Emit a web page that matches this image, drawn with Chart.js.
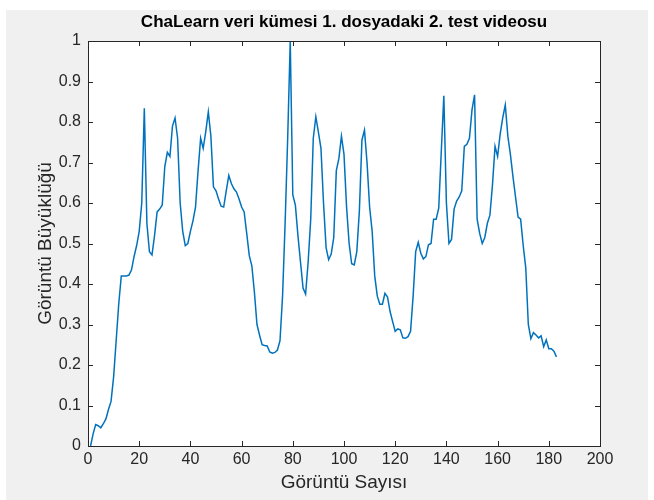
<!DOCTYPE html>
<html>
<head>
<meta charset="utf-8">
<script src="https://cdn.jsdelivr.net/npm/chart.js@4.4.0/dist/chart.umd.min.js"></script>
<style>
  html, body { margin: 0; padding: 0; background: #ffffff; }
  #fig { position: absolute; left: 6px; top: 10px; width: 642px; height: 490px; background: #f0f0f0; }
  #wrap { position: absolute; left: 0; top: 0; width: 654px; height: 500px; }
</style>
</head>
<body>
<div id="fig"></div>
<div id="wrap"><canvas id="chart" width="654" height="500"></canvas></div>
<script>
// Görüntü büyüklüğü, kare başına (1..183)
const sizes = [
    0, 0.030, 0.053, 0.050, 0.045, 0.055, 0.067, 0.090, 0.110, 0.170,
    0.260, 0.350, 0.420, 0.420, 0.420, 0.422, 0.435, 0.468, 0.495, 0.530,
    0.600, 0.834, 0.550, 0.480, 0.472, 0.520, 0.578, 0.585, 0.595, 0.690,
    0.725, 0.715, 0.790, 0.810, 0.760, 0.600, 0.530, 0.495, 0.500, 0.530,
    0.556, 0.590, 0.680, 0.760, 0.735, 0.776, 0.825, 0.765, 0.640, 0.630,
    0.610, 0.592, 0.590, 0.630, 0.668, 0.648, 0.635, 0.627, 0.610, 0.590,
    0.578, 0.525, 0.470, 0.445, 0.380, 0.300, 0.274, 0.250, 0.248, 0.247,
    0.232, 0.229, 0.231, 0.237, 0.260, 0.370, 0.550, 0.760, 1.000, 0.620,
    0.595, 0.520, 0.455, 0.390, 0.375, 0.455, 0.560, 0.760, 0.813, 0.775,
    0.735, 0.600, 0.490, 0.460, 0.474, 0.515, 0.680, 0.710, 0.765, 0.720,
    0.590, 0.500, 0.450, 0.447, 0.480, 0.580, 0.755, 0.780, 0.700, 0.590,
    0.530, 0.420, 0.370, 0.350, 0.350, 0.377, 0.368, 0.332, 0.307, 0.283,
    0.289, 0.287, 0.267, 0.266, 0.270, 0.283, 0.370, 0.480, 0.503, 0.476,
    0.462, 0.468, 0.497, 0.500, 0.560, 0.560, 0.587, 0.727, 0.865, 0.600,
    0.500, 0.510, 0.585, 0.605, 0.615, 0.630, 0.740, 0.745, 0.760, 0.830,
    0.867, 0.560, 0.525, 0.500, 0.515, 0.550, 0.570, 0.645, 0.740, 0.715,
    0.770, 0.810, 0.842, 0.765, 0.720, 0.665, 0.615, 0.565, 0.560, 0.495,
    0.440, 0.300, 0.265, 0.280, 0.274, 0.267, 0.272, 0.245, 0.262, 0.240,
    0.240, 0.234, 0.220
];
const frames = sizes.map((_, i) => i + 1);

const xTicks = [0, 20, 40, 60, 80, 100, 120, 140, 160, 180, 200];
const yTicks = [0, 0.1, 0.2, 0.3, 0.4, 0.5, 0.6, 0.7, 0.8, 0.9, 1];

const titleText = 'ChaLearn veri kümesi 1. dosyadaki 2. test videosu';
const xLabel = 'Görüntü Sayısı';
const yLabel = 'Görüntü Büyüklüğü';

const axisColor = '#262626';
const fontFamily = 'Helvetica, Arial, "Liberation Sans", sans-serif';

// MATLAB tarzı kutu, içe dönük çentikler ve metinler
const matlabAxes = {
    id: 'matlabAxes',
    beforeDraw(chart) {
        const { ctx, chartArea: a } = chart;
        ctx.save();
        ctx.fillStyle = '#ffffff';
        ctx.fillRect(a.left, a.top, a.right - a.left, a.bottom - a.top);
        ctx.restore();
    },
    afterDraw(chart) {
        const { ctx, chartArea: a, scales } = chart;
        ctx.save();
        ctx.strokeStyle = axisColor;
        ctx.lineWidth = 1;
        const tl = 5;
        ctx.beginPath();
        xTicks.forEach(v => {
            const px = Math.round(scales.x.getPixelForValue(v)) + 0.5;
            ctx.moveTo(px, a.bottom); ctx.lineTo(px, a.bottom - tl);
            ctx.moveTo(px, a.top); ctx.lineTo(px, a.top + tl);
        });
        yTicks.forEach(v => {
            const py = Math.round(scales.y.getPixelForValue(v)) + 0.5;
            ctx.moveTo(a.left, py); ctx.lineTo(a.left + tl, py);
            ctx.moveTo(a.right, py); ctx.lineTo(a.right - tl, py);
        });
        ctx.stroke();
        ctx.strokeRect(Math.round(a.left) + 0.5, Math.round(a.top) + 0.5,
            Math.round(a.right - a.left), Math.round(a.bottom - a.top));

        const cx = (a.left + a.right) / 2;
        ctx.fillStyle = '#000000';
        ctx.textAlign = 'center';
        ctx.textBaseline = 'middle';
        ctx.font = 'bold 17px ' + fontFamily;
        ctx.fillText(titleText, cx, 22);

        ctx.fillStyle = axisColor;
        ctx.font = '19px ' + fontFamily;
        ctx.fillText(xLabel, cx, 483);

        ctx.translate(46, (a.top + a.bottom) / 2);
        ctx.rotate(-Math.PI / 2);
        ctx.fillText(yLabel, 0, 0);
        ctx.restore();
    }
};

new Chart(document.getElementById('chart'), {
    type: 'line',
    data: {
        datasets: [{
            data: frames.map((f, i) => ({ x: f, y: sizes[i] })),
            borderColor: '#0072bd',
            borderWidth: 1.5,
            pointRadius: 0,
            tension: 0,
            fill: false
        }]
    },
    options: {
        responsive: false,
        animation: false,
        devicePixelRatio: 1,
        layout: { padding: { left: 0, top: 41, right: 54, bottom: 0 } },
        plugins: { legend: { display: false }, tooltip: { enabled: false }, title: { display: false } },
        scales: {
            x: {
                type: 'linear',
                min: 0,
                max: 200,
                afterBuildTicks: s => { s.ticks = xTicks.map(v => ({ value: v })); },
                afterFit: s => { s.height = 54; },
                grid: { display: false, drawTicks: false },
                border: { display: false },
                ticks: { color: axisColor, font: { family: fontFamily, size: 16 }, padding: 4, maxRotation: 0 }
            },
            y: {
                min: 0,
                max: 1,
                afterBuildTicks: s => { s.ticks = yTicks.map(v => ({ value: v })); },
                afterFit: s => { s.width = 88; },
                grid: { display: false, drawTicks: false },
                border: { display: false },
                ticks: {
                    color: axisColor,
                    font: { family: fontFamily, size: 16 },
                    padding: 7,
                    callback: v => String(+v.toFixed(1))
                }
            }
        }
    },
    plugins: [matlabAxes]
});
</script>
</body>
</html>
